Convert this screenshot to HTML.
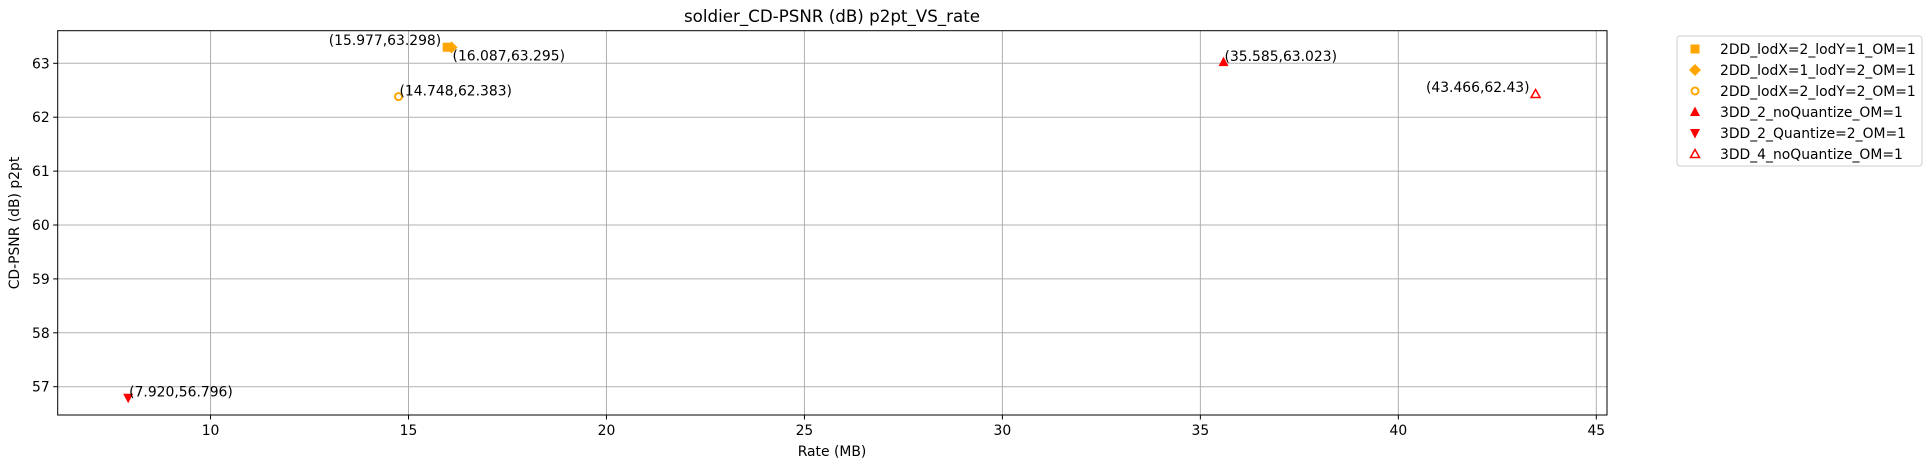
<!DOCTYPE html>
<html><head><meta charset="utf-8"><style>
body{margin:0;background:#fff}
svg{display:block;font-family:"DejaVu Sans","Liberation Sans",sans-serif}
</style></head><body>
<svg id="chart" width="1932" height="468" viewBox="0 0 1932 468" xmlns="http://www.w3.org/2000/svg">
<text x="832" y="22" font-size="16.7" text-anchor="middle">soldier_CD-PSNR (dB) p2pt_VS_rate</text>
<g id="grid"></g>
<g id="axes"></g>
<g id="marks"></g>
<text x="832" y="456" font-size="13.9" text-anchor="middle">Rate (MB)</text>
<text transform="translate(19,223) rotate(-90)" font-size="13.9" text-anchor="middle">CD-PSNR (dB) p2pt</text>
<g id="legend"></g>
</svg>
<script>
const seriesNames=["2DD_lodX=2_lodY=1_OM=1","2DD_lodX=1_lodY=2_OM=1","2DD_lodX=2_lodY=2_OM=1","3DD_2_noQuantize_OM=1","3DD_2_Quantize=2_OM=1","3DD_4_noQuantize_OM=1"];
const rates=[15.977,16.087,14.748,35.585,7.920,43.466];
const psnr=[63.298,63.295,62.383,63.023,56.796,62.43];
const pointLabels=["(15.977,63.298)","(16.087,63.295)","(14.748,62.383)","(35.585,63.023)","(7.920,56.796)","(43.466,62.43)"];
const xTicks=[10,15,20,25,30,35,40,45];
const yTicks=[57,58,59,60,61,62,63];

const L=57.7,R=1607,T=30.7,B=415;
const xmin=6.14,xmax=45.27,ymin=56.475,ymax=63.605;
const sx=v=>L+(v-xmin)/(xmax-xmin)*(R-L);
const sy=v=>B-(v-ymin)/(ymax-ymin)*(B-T);
const NS="http://www.w3.org/2000/svg";
function mk(tag,attrs,parent){const e=document.createElementNS(NS,tag);for(const k in attrs)e.setAttribute(k,attrs[k]);parent.appendChild(e);return e;}
const grid=document.getElementById('grid'),axes=document.getElementById('axes'),marks=document.getElementById('marks'),leg=document.getElementById('legend');
xTicks.forEach(t=>{const x=sx(t);
 const g=mk('line',{x1:x,x2:x,y1:T,y2:B,stroke:'#b0b0b0','stroke-width':1},grid);
 
 
 mk('line',{x1:x,x2:x,y1:B,y2:B+4.5,stroke:'#000'},axes);
 const tx=mk('text',{x:x,y:B+20,'font-size':13.9,'text-anchor':'middle'},axes);tx.textContent=t;
 
 
});
yTicks.forEach(t=>{const y=sy(t);
 const g=mk('line',{x1:L,x2:R,y1:y,y2:y,stroke:'#b0b0b0','stroke-width':1},grid);
 
 
 mk('line',{x1:L-4.5,x2:L,y1:y,y2:y,stroke:'#000'},axes);
 const tx=mk('text',{x:L-8,y:y+5,'font-size':13.9,'text-anchor':'end'},axes);tx.textContent=t;
 
 
});
const frame=mk('rect',{x:L,y:T,width:R-L,height:B-T,fill:'none',stroke:'#000','stroke-width':1},axes);



function marker(i,x,y,parent){
 const o='#ffa500',r='#ff0000';let e;
 if(i===0)e=mk('rect',{x:x-4.5,y:y-4.5,width:9,height:9,fill:o},parent);
 else if(i===1)e=mk('polygon',{points:`${x},${y-6} ${x+6},${y} ${x},${y+6} ${x-6},${y}`,fill:o},parent);
 else if(i===2)e=mk('circle',{cx:x,cy:y,r:3.5,fill:'none',stroke:o,'stroke-width':2},parent);
 else if(i===3)e=mk('polygon',{points:`${x},${y-5.5} ${x+5},${y+4} ${x-5},${y+4}`,fill:r},parent);
 else if(i===4)e=mk('polygon',{points:`${x},${y+5.5} ${x+5},${y-4} ${x-5},${y-4}`,fill:r},parent);
 else e=mk('polygon',{points:`${x},${y-4.5} ${x+4.5},${y+3.5} ${x-4.5},${y+3.5}`,fill:'none',stroke:r,'stroke-width':1.5},parent);
 return e;
}
rates.forEach((v,i)=>{const x=sx(v),y=sy(psnr[i]);
 const m=marker(i,x,y,marks);
 
 
 let a={x:x+1,y:y-1,'text-anchor':'start'};
 if(i===0)a={x:x-6,y:y-2,'text-anchor':'end'};
 if(i===1)a={x:x+1,y:y+13,'text-anchor':'start'};
 if(i===5)a={x:x-6,y:y-2,'text-anchor':'end'};
 a['font-size']=13.9;
 const t=mk('text',a,marks);t.textContent=pointLabels[i];
 
 
});
const box=mk('rect',{x:1677,y:36,width:245,height:130,rx:3,fill:'#fff',stroke:'#ccc'},leg);


seriesNames.forEach((n,i)=>{const y=49+i*21;
 const g=mk('g',{},leg);
 
 
 marker(i,1695,y,g);
 const t=mk('text',{x:1720,y:y+5,'font-size':13.9},g);t.textContent=n;
});
</script>
</body></html>
